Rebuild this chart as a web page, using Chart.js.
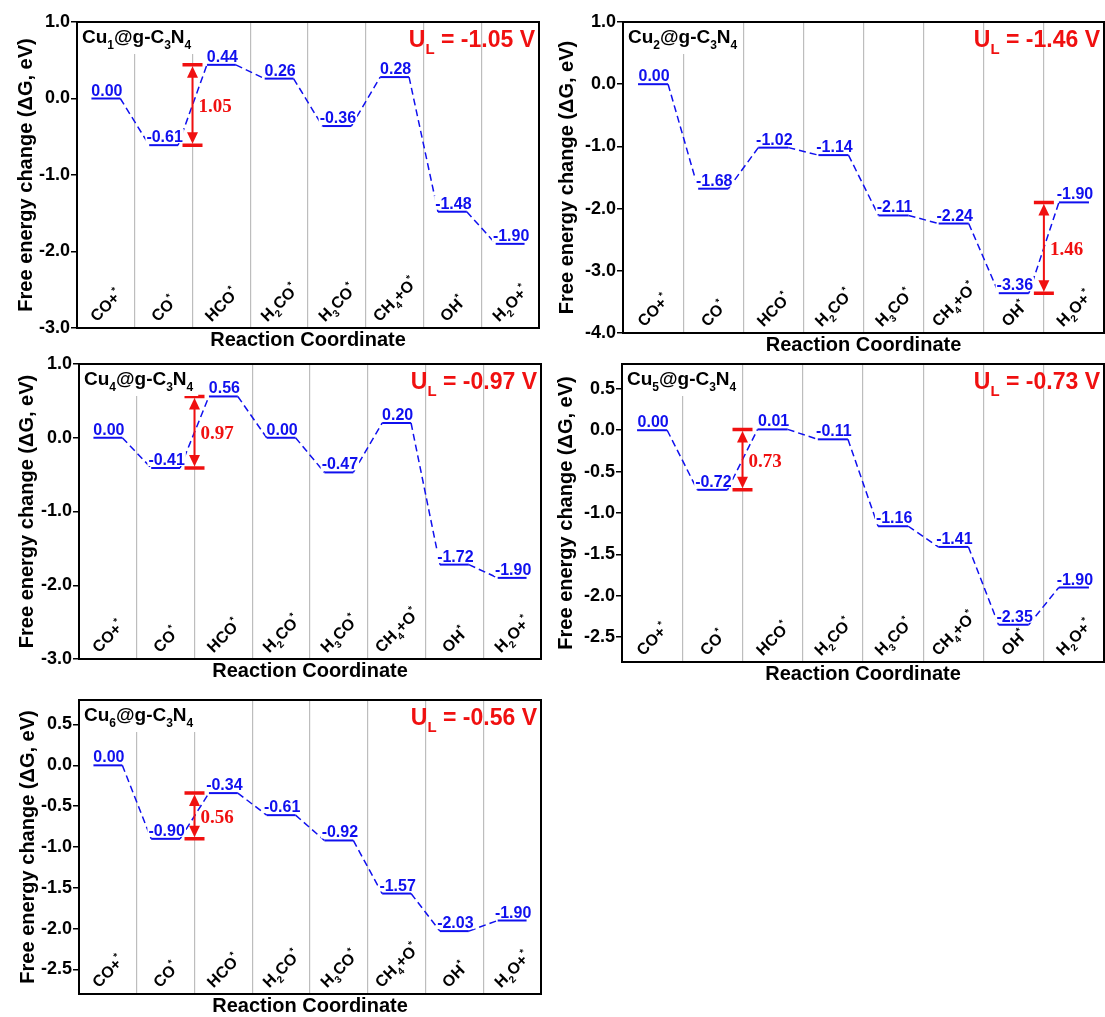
<!DOCTYPE html>
<html>
<head>
<meta charset="utf-8">
<script src="https://cdn.jsdelivr.net/npm/chart.js@4.4.1/dist/chart.umd.min.js"></script>
<style>
html, body { margin: 0; padding: 0; background: #fff; overflow: hidden; }
body { width: 1105px; height: 1017px; position: relative; }
.panel { position: absolute; }
</style>
</head>
<body>
<div class="panel" style="left:0;top:0;width:552px;height:354px"><canvas id="c1"></canvas></div>
<div class="panel" style="left:552px;top:0;width:553px;height:358px"><canvas id="c2"></canvas></div>
<div class="panel" style="left:0;top:344px;width:552px;height:340px"><canvas id="c3"></canvas></div>
<div class="panel" style="left:552px;top:344px;width:553px;height:344px"><canvas id="c4"></canvas></div>
<div class="panel" style="left:0;top:680px;width:552px;height:337px"><canvas id="c5"></canvas></div>
<script>
// ========== CO2RR free energy diagrams, Cu_n@g-C3N4 ==========
// _x = subscript char, ^x = superscript char
const categories = ['CO+^*', 'CO^*', 'HCO^*', 'H_2CO^*', 'H_3CO^*', 'CH_4+O^*', 'OH^*', 'H_2O+^*'];

const cu1Energy = [0.00, -0.61, 0.44, 0.26, -0.36, 0.28, -1.48, -1.90];
const cu2Energy = [0.00, -1.68, -1.02, -1.14, -2.11, -2.24, -3.36, -1.90];
const cu4Energy = [0.00, -0.41, 0.56, 0.00, -0.47, 0.20, -1.72, -1.90];
const cu5Energy = [0.00, -0.72, 0.01, -0.11, -1.16, -1.41, -2.35, -1.90];
const cu6Energy = [0.00, -0.90, -0.34, -0.61, -0.92, -1.57, -2.03, -1.90];

// potential-limiting step (state index from -> to)
const cu1Step = [1, 2];
const cu2Step = [6, 7];
const cu4Step = [1, 2];
const cu5Step = [1, 2];
const cu6Step = [1, 2];

const ticksOne = [1.0, 0.0, -1.0, -2.0, -3.0];
const ticksDeep = [1.0, 0.0, -1.0, -2.0, -3.0, -4.0];
const ticksHalf = [0.5, 0.0, -0.5, -1.0, -1.5, -2.0, -2.5];

const FONT = '"Liberation Sans", Arial, sans-serif';
const SERIF = '"Liberation Serif", "Times New Roman", serif';
const BLUE = '#1010ee';
const RED = '#f01010';

Chart.defaults.font.family = FONT;

const panels = [
    { id: 'c1', name: 'Cu_1@g-C_3N_4', energy: cu1Energy, step: cu1Step, ticks: ticksOne, min: -3, max: 1,
      box: { l: 0, t: 0, w: 552, h: 354 }, plot: { l: 77, t: 22, r: 539, b: 328 }, titleX: 26 },
    { id: 'c2', name: 'Cu_2@g-C_3N_4', energy: cu2Energy, step: cu2Step, ticks: ticksDeep, min: -4, max: 1,
      box: { l: 552, t: 0, w: 553, h: 358 }, plot: { l: 623, t: 22, r: 1104, b: 333 }, titleX: 567 },
    { id: 'c3', name: 'Cu_4@g-C_3N_4', energy: cu4Energy, step: cu4Step, ticks: ticksOne, min: -3, max: 1,
      box: { l: 0, t: 344, w: 552, h: 340 }, plot: { l: 79, t: 364, r: 541, b: 659 }, titleX: 27 },
    { id: 'c4', name: 'Cu_5@g-C_3N_4', energy: cu5Energy, step: cu5Step, ticks: ticksHalf, min: -2.8, max: 0.8,
      box: { l: 552, t: 344, w: 553, h: 344 }, plot: { l: 622, t: 364, r: 1104, b: 662 }, titleX: 566 },
    { id: 'c5', name: 'Cu_6@g-C_3N_4', energy: cu6Energy, step: cu6Step, ticks: ticksHalf, min: -2.8, max: 0.8,
      box: { l: 0, t: 680, w: 552, h: 337 }, plot: { l: 79, t: 700, r: 541, b: 994 }, titleX: 28 }
];

function parseRich(s) {
    var out = [];
    for (var i = 0; i < s.length; i++) {
        var ch = s[i];
        if ((ch === '_' || ch === '^') && i + 1 < s.length) { out.push({ t: s[i + 1], k: ch }); i++; }
        else out.push({ t: ch, k: '' });
    }
    return out;
}

function partFont(p, size) {
    return 'bold ' + (p.k ? Math.round(size * 0.65) : size) + 'px ' + FONT;
}

function richWidth(ctx, s, size) {
    var w = 0;
    parseRich(s).forEach(function(p) { ctx.font = partFont(p, size); w += ctx.measureText(p.t).width; });
    return w;
}

// y is the baseline
function drawRich(ctx, s, x, y, size, color, align) {
    var w = richWidth(ctx, s, size);
    var cx = align === 'right' ? x - w : (align === 'center' ? x - w / 2 : x);
    ctx.fillStyle = color;
    ctx.textAlign = 'left';
    ctx.textBaseline = 'alphabetic';
    parseRich(s).forEach(function(p) {
        ctx.font = partFont(p, size);
        var dy = p.k === '_' ? size * 0.3 : (p.k === '^' ? -size * 0.45 : 0);
        ctx.fillText(p.t, cx, y + dy);
        cx += ctx.measureText(p.t).width;
    });
    return w;
}

// one level = two points, joined to the next level by a dashed step
function levelPoints(energy) {
    var pts = [];
    energy.forEach(function(e, i) {
        pts.push({ x: i - 0.25, y: e });
        pts.push({ x: i + 0.25, y: e });
    });
    return pts;
}

const diagramPlugin = {
    id: 'diagram',
    afterDatasetsDraw: function(chart) {
        var cfg = chart.options.plugins.diagram;
        var ctx = chart.ctx;
        var area = chart.chartArea;
        var xs = chart.scales.x, ys = chart.scales.y;
        var energy = cfg.energy;
        ctx.save();

        // level values
        energy.forEach(function(e, i) {
            var txt = e.toFixed(2);
            var x = xs.getPixelForValue(i) + 1;
            var y = ys.getPixelForValue(e) - 3;
            ctx.font = 'bold 16px ' + FONT;
            var w = ctx.measureText(txt).width;
            ctx.fillStyle = '#fff';
            ctx.fillRect(x - w / 2 - 1, y - 13, w + 2, 14);
            ctx.fillStyle = BLUE;
            ctx.textAlign = 'center';
            ctx.textBaseline = 'alphabetic';
            ctx.fillText(txt, x, y);
        });

        // limiting step arrow
        var e0 = energy[cfg.step[0]], e1 = energy[cfg.step[1]];
        var ax = xs.getPixelForValue((cfg.step[0] + cfg.step[1]) / 2);
        var yTop = ys.getPixelForValue(Math.max(e0, e1));
        var yBot = ys.getPixelForValue(Math.min(e0, e1));
        ctx.strokeStyle = RED;
        ctx.fillStyle = RED;
        ctx.lineWidth = 3.5;
        ctx.beginPath();
        ctx.moveTo(ax - 10, yTop); ctx.lineTo(ax + 10, yTop);
        ctx.moveTo(ax - 10, yBot); ctx.lineTo(ax + 10, yBot);
        ctx.stroke();
        ctx.lineWidth = 2;
        ctx.beginPath();
        ctx.moveTo(ax, yTop + 8); ctx.lineTo(ax, yBot - 8);
        ctx.stroke();
        ctx.beginPath();
        ctx.moveTo(ax, yTop + 1.5); ctx.lineTo(ax - 5.5, yTop + 13); ctx.lineTo(ax + 5.5, yTop + 13);
        ctx.closePath(); ctx.fill();
        ctx.beginPath();
        ctx.moveTo(ax, yBot - 1.5); ctx.lineTo(ax - 5.5, yBot - 13); ctx.lineTo(ax + 5.5, yBot - 13);
        ctx.closePath(); ctx.fill();
        var gap = Math.abs(e1 - e0).toFixed(2);
        ctx.font = 'bold 19px ' + SERIF;
        ctx.textAlign = 'left';
        ctx.textBaseline = 'middle';
        ctx.fillText(gap, ax + 6, (yTop + yBot) / 2 + 2);

        // catalyst name with white box over grid lines
        var nw = richWidth(ctx, cfg.name, 19);
        ctx.fillStyle = '#fff';
        ctx.fillRect(area.left + 1, area.top + 1, nw + 9, 31);
        drawRich(ctx, cfg.name, area.left + 5, area.top + 21, 19, '#000', 'left');

        // limiting potential
        drawRich(ctx, 'U_L = -' + gap + ' V', area.right - 4, area.top + 25, 23, RED, 'right');

        // category labels, rotated inside the frame
        categories.forEach(function(lab, i) {
            var size = 16;
            var w = richWidth(ctx, lab, size);
            var cx = xs.getPixelForValue(i);
            var cy = area.bottom - 4 - (w + size) * 0.3536;
            ctx.save();
            ctx.translate(cx, cy);
            ctx.rotate(-Math.PI / 4);
            drawRich(ctx, lab, 0, size * 0.36, size, '#000', 'center');
            ctx.restore();
        });

        // axis titles
        ctx.fillStyle = '#000';
        ctx.font = 'bold 20px ' + FONT;
        ctx.textAlign = 'center';
        ctx.textBaseline = 'middle';
        ctx.fillText('Reaction Coordinate', (area.left + area.right) / 2, area.bottom + 12);
        ctx.save();
        ctx.translate(cfg.titleX, (area.top + area.bottom) / 2);
        ctx.rotate(-Math.PI / 2);
        ctx.fillText('Free energy change (\u0394G, eV)', 0, 0);
        ctx.restore();

        // frame
        ctx.strokeStyle = '#000';
        ctx.lineWidth = 2;
        ctx.strokeRect(area.left, area.top, area.right - area.left, area.bottom - area.top);
        ctx.restore();
    }
};

panels.forEach(function(p) {
    var yTicks = p.ticks;
    new Chart(document.getElementById(p.id).getContext('2d'), {
        type: 'line',
        data: {
            datasets: [{
                data: levelPoints(p.energy),
                borderColor: BLUE,
                borderWidth: 2,
                pointRadius: 0,
                tension: 0,
                fill: false,
                segment: {
                    borderDash: function(c) { return c.p0DataIndex % 2 ? [7, 4] : []; },
                    borderWidth: function(c) { return c.p0DataIndex % 2 ? 1.5 : 2; }
                }
            }]
        },
        options: {
            responsive: true,
            maintainAspectRatio: false,
            animation: false,
            layout: {
                padding: {
                    left: 0,
                    top: p.plot.t - p.box.t,
                    right: p.box.l + p.box.w - p.plot.r,
                    bottom: p.box.t + p.box.h - p.plot.b
                }
            },
            plugins: {
                legend: { display: false },
                tooltip: { enabled: false },
                diagram: { energy: p.energy, step: p.step, name: p.name, titleX: p.titleX - p.box.l }
            },
            scales: {
                x: {
                    type: 'linear',
                    min: -0.5,
                    max: 7.5,
                    afterBuildTicks: function(s) {
                        s.ticks = categories.slice(1).map(function(_, i) { return { value: i + 0.5 }; });
                    },
                    afterFit: function(s) { s.height = 0; },
                    ticks: { display: false },
                    grid: { color: '#bdbdbd', lineWidth: 1.2, drawTicks: false },
                    border: { display: false }
                },
                y: {
                    min: p.min,
                    max: p.max,
                    afterBuildTicks: function(s) {
                        s.ticks = yTicks.map(function(v) { return { value: v }; });
                    },
                    afterFit: function(s) { s.width = p.plot.l - p.box.l; },
                    ticks: {
                        color: '#000',
                        padding: 1,
                        font: { size: 18, weight: 'bold' },
                        callback: function(v) { return Number(v).toFixed(1); }
                    },
                    grid: { drawOnChartArea: false, drawTicks: true, tickLength: 6, color: '#000', lineWidth: 1.5 },
                    border: { display: false }
                }
            }
        },
        plugins: [diagramPlugin]
    });
});
</script>
</body>
</html>
